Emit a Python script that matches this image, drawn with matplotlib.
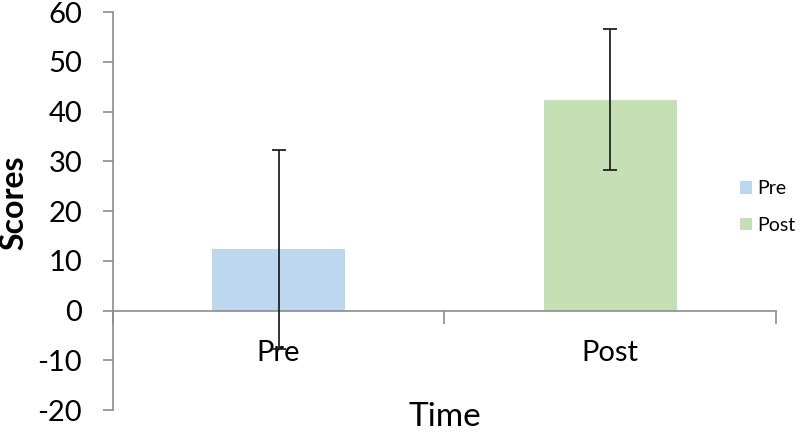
import matplotlib
matplotlib.use("Agg")
from matplotlib import pyplot as plt
import numpy as np

# DATA
categories = ["Pre", "Post"]
scores = [12.3, 42.4]
errors = [20.0, 14.2]
colors = ["#BDD7EE", "#C5E0B4"]
y_ticks = [-20, -10, 0, 10, 20, 30, 40, 50, 60]

plt.rcParams["font.family"] = ["Lato", "DejaVu Sans"]

fig = plt.figure(figsize=(8, 4.33), dpi=100)
ax = fig.add_axes([0.141, 0.053, 0.829, 0.919])

x = np.arange(len(categories))
for i, cat in enumerate(categories):
    ax.bar(x[i], scores[i], width=0.4, color=colors[i], label=cat, zorder=2)
    ax.errorbar(x[i], scores[i], yerr=errors[i], fmt="none", ecolor="#222222",
                elinewidth=1.3, capsize=5, capthick=1.3, zorder=3)

ax.set_xlim(-0.5, len(categories) - 0.5)
ax.set_ylim(-20, 60)
ax.set_yticks(y_ticks)
ax.set_yticklabels([str(t) for t in y_ticks])

# category axis crosses at zero (Excel style)
for s in ["top", "right"]:
    ax.spines[s].set_visible(False)
ax.spines["bottom"].set_position(("data", 0))
for s in ["left", "bottom"]:
    ax.spines[s].set_color("#8c8c8c")
    ax.spines[s].set_linewidth(1.2)

# ticks at category boundaries, labels at centres
ax.set_xticks(np.arange(len(categories) + 1) - 0.5)
ax.set_xticklabels([])
ax.set_xticks(x, minor=True)
ax.set_xticklabels(categories, minor=True)
ax.tick_params(axis="x", which="major", length=9, width=1.2, color="#8c8c8c", direction="out")
ax.tick_params(axis="x", which="minor", length=0, pad=21, labelsize=21)
ax.tick_params(axis="y", length=7, width=1.2, color="#8c8c8c", pad=15, labelsize=21)

fig.text(14 / 800, 1 - 203 / 433, "Scores", rotation=90, ha="center", va="center",
         fontsize=23, fontweight="bold")
fig.text(445 / 800, 1 - 417 / 433, "Time", ha="center", va="center", fontsize=24)

ax.legend(loc="center left", bbox_to_anchor=(740 / 800, 1 - 207 / 433),
          bbox_transform=fig.transFigure, frameon=False, fontsize=14,
          handlelength=0.6, handleheight=0.6, handletextpad=0.3, labelspacing=1.0,
          borderaxespad=0, borderpad=0)

plt.savefig("out.png", dpi=100)
